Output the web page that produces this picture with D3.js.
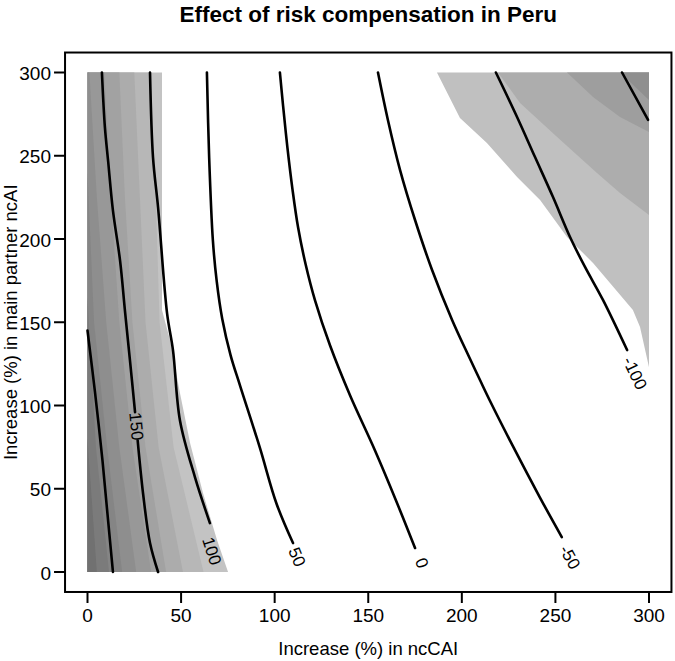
<!DOCTYPE html>
<html><head><meta charset="utf-8">
<script src="https://cdn.jsdelivr.net/npm/d3@7"></script>
<style>
html,body{margin:0;padding:0;background:#fff;}
text{font-family:"Liberation Sans",Arial,sans-serif;fill:#000;}
</style></head>
<body><svg id="c" width="675" height="661"></svg>
<script>
// ---- data ----
const xTicks = [0, 50, 100, 150, 200, 250, 300];
const yTicks = [0, 50, 100, 150, 200, 250, 300];
const titleText = "Effect of risk compensation in Peru";
const xTitle = "Increase (%) in ncCAI";
const yTitle = "Increase (%) in main partner ncAI";

// contour lines (x = ncCAI increase, y = main partner ncAI increase)
const line200  = [[0,145],[4,108],[8,67],[11,31],[13.6,0]];
const line150a = [[7.7,300],[9.3,267],[11,247],[13.6,217],[17.4,187],[20,157],[22.7,127],[25.4,96]];
const line150b = [[26.8,79],[29.7,47],[33.4,17.4],[37.7,0]];
const line100  = [[33.4,300],[35,249],[37.7,219],[42.5,155.5],[45.7,133],[49.4,91],[57.4,57],[65.4,29.4]];
const line50   = [[63.8,300],[65,249],[67,199],[69,175],[72,152],[76.5,130],[81.5,112],[92,75],[101,41],[109.8,17.4]];
const line0    = [[102.8,300],[104.5,280],[106.8,255],[109.5,230],[112.5,207],[116.5,185],[121.6,163],[129.6,136],[140.3,106],[153.6,73],[167,37],[175,14.4]];
const lineM50  = [[155.2,300],[160.5,271.5],[167,241.4],[175,211.4],[184.1,181.4],[194.8,151.4],[203.9,129.1],[209.7,115.3],[215.6,101.5],[227.5,75.1],[241.6,45],[253.4,21]];
const lineM100 = [[218.2,300],[229.5,273.3],[239.1,249.2],[248.7,225.2],[257.8,201.2],[265.8,183.2],[275.4,163.4],[288.3,133.3]];
const lineM150 = [[285.6,300],[299.5,271.5]];

// contour labels: text, anchor point
const labelText = ["150", "100", "50", "0", "-50", "-100"];
const labelPos  = [[26.2,87.5],[66.5,12.6],[112,9],[178.7,5.4],[257.8,9],[292.5,119.5]];

// shaded band boundaries, left block (outermost / lightest first)
const leftBands = [
  [[39.8,300],[39.8,157.4],[44.1,139.3],[49.4,107.5],[54.8,77.5],[61.7,47.4],[69.2,19.2],[75.1,0]],
  [[33,300],[36.5,225],[38.5,150],[46,75],[62,0]],
  [[25,300],[28,225],[31,150],[38,75],[51,0]],
  [[17,300],[20,225],[24,150],[31,75],[42,0]],
  [[9,300],[12.5,225],[17,150],[24,75],[34,0]],
  [[1,300],[5,225],[10,150],[17,75],[26,0]],
  [[0,240],[3.5,150],[10.5,75],[18.5,0]],
  [[0,165],[4.5,75],[11.5,0]],
  [[0,80],[5,0]]
];
const leftColors = ["#c3c3c3","#b7b7b7","#acacac","#a2a2a2","#989898","#8e8e8e","#858585","#7b7b7b","#717171"];

// shaded band boundaries, upper right block
const rightBands = [
  [[186.7,300],[199,272.7],[213.4,257.7],[229.5,237.2],[241.8,223.4],[256.2,201.2],[270.1,185.6],[291.4,157.4],[295.2,147.1],[300,123]],
  [[219.3,300],[231.1,281.7],[250.9,261.3],[272.2,239.6],[284.5,227.6],[300,214.4]],
  [[256.2,300],[270.1,285.3],[284.5,273.3],[300,264.3]],
  [[284.5,300],[300,283.5]]
];
const rightColors = ["#c0c0c0","#adadad","#9e9e9e","#8f8f8f"];

// ---- drawing ----
const svg = d3.select("#c");
const x = d3.scaleLinear().domain([0,300]).range([87.5,649]);
const y = d3.scaleLinear().domain([0,300]).range([572,72.5]);
const line = d3.line().x(d=>x(d[0])).y(d=>y(d[1]));
const smooth = d3.line().x(d=>x(d[0])).y(d=>y(d[1])).curve(d3.curveCatmullRom.alpha(0.5));

const gFill = svg.append("g");
leftBands.forEach((b,i)=>{
  const poly = b.concat([[0,0],[0,b[0][1]]]);
  gFill.append("path").attr("d", line(poly)+"Z").attr("fill", leftColors[i]).attr("stroke","none");
});
rightBands.forEach((b,i)=>{
  const poly = b.concat([[300,300]]);
  gFill.append("path").attr("d", line(poly)+"Z").attr("fill", rightColors[i]).attr("stroke","none");
});

const lines = [line200,line150a,line150b,line100,line50,line0,lineM50,lineM100,lineM150];
svg.append("g").selectAll("path").data(lines).join("path")
  .attr("d", d=>smooth(d)).attr("fill","none").attr("stroke","#000")
  .attr("stroke-width",2.6).attr("stroke-linejoin","round").attr("stroke-linecap","round");

// label angles from neighbouring line segments
const angleRef = [
  [line150a[line150a.length-1], line150b[0]],
  [line100[line100.length-2], line100[line100.length-1]],
  [line50[line50.length-2], line50[line50.length-1]],
  [line0[line0.length-2], line0[line0.length-1]],
  [lineM50[lineM50.length-2], lineM50[lineM50.length-1]],
  [lineM100[lineM100.length-2], lineM100[lineM100.length-1]]
];
labelText.forEach((t,i)=>{
  const [a,b] = angleRef[i];
  const ang = Math.atan2(y(b[1])-y(a[1]), x(b[0])-x(a[0]))*180/Math.PI;
  const px = x(labelPos[i][0]), py = y(labelPos[i][1]);
  svg.append("text").attr("transform",`translate(${px},${py}) rotate(${ang})`)
    .attr("text-anchor","middle").attr("dy","0.35em").style("font-size","17px").text(t);
});

// box
const x0 = x(-12), x1 = x(312), y0 = y(-12), y1 = y(312);
svg.append("rect").attr("x",x0).attr("y",y1).attr("width",x1-x0).attr("height",y0-y1)
  .attr("fill","none").attr("stroke","#000").attr("stroke-width",2);

// axes
const gx = svg.append("g");
gx.selectAll("line").data(xTicks).join("line")
  .attr("x1",d=>x(d)).attr("x2",d=>x(d)).attr("y1",y0).attr("y2",y0+11)
  .attr("stroke","#000").attr("stroke-width",2);
gx.selectAll("text").data(xTicks).join("text")
  .attr("x",d=>x(d)).attr("y",622).attr("text-anchor","middle").style("font-size","19px").text(d=>d);
const gy = svg.append("g");
gy.selectAll("line").data(yTicks).join("line")
  .attr("x1",x0-11).attr("x2",x0).attr("y1",d=>y(d)).attr("y2",d=>y(d))
  .attr("stroke","#000").attr("stroke-width",2);
gy.selectAll("text").data(yTicks).join("text")
  .attr("x",51).attr("y",d=>y(d)+7.5).attr("text-anchor","end").style("font-size","19px").text(d=>d);

// titles
svg.append("text").attr("x",(x0+x1)/2).attr("y",22).attr("text-anchor","middle")
  .style("font-size","22.5px").style("font-weight","bold").text(titleText);
svg.append("text").attr("x",(x0+x1)/2).attr("y",655).attr("text-anchor","middle")
  .style("font-size","18.5px").text(xTitle);
svg.append("text").attr("transform",`translate(17,${(y0+y1)/2}) rotate(-90)`).attr("text-anchor","middle")
  .style("font-size","18.5px").text(yTitle);
</script></body></html>
